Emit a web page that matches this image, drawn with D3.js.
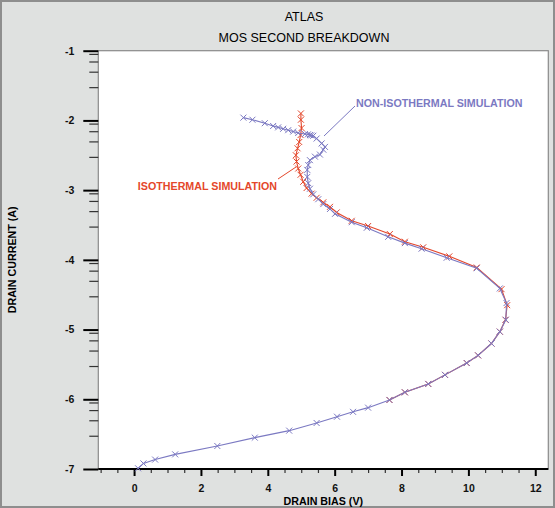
<!DOCTYPE html>
<html>
<head>
    <meta charset="utf-8">
    <script src="https://cdn.jsdelivr.net/npm/d3@7"></script>
    <style>
        body { margin: 0; background: #dfe1e0; }
        text { font-family: "Liberation Sans", Arial, sans-serif; }
    </style>
</head>
<body>
    <svg width="555" height="508"></svg>
    <script>
        // drain bias (V) and log10 drain current (A)
        const nonIsoBias = [0.12, 0.28, 0.63, 1.23, 2.49, 3.61, 4.64, 5.46, 6.07, 6.55, 7.0, 7.64,
            8.10, 8.80, 9.30, 9.95, 10.29, 10.69, 10.94, 11.12, 11.14, 10.94, 10.25, 9.35, 8.60,
            8.10, 7.60, 6.96, 6.51, 6.01, 5.86, 5.66, 5.51, 5.36, 5.26, 5.21, 5.18, 5.18, 5.21,
            5.26, 5.41, 5.56, 5.66, 5.71, 5.61, 5.46, 5.36, 5.30, 5.26, 5.20, 5.11, 4.91, 4.76,
            4.61, 4.46, 4.31, 4.16, 3.91, 3.54, 3.27];
        const nonIsoCurrent = [-6.99, -6.92, -6.865, -6.79, -6.67, -6.55, -6.45, -6.34, -6.25, -6.18,
            -6.12, -6.01, -5.90, -5.78, -5.65, -5.48, -5.37, -5.20, -5.03, -4.86, -4.62, -4.41, -4.12,
            -3.97, -3.84, -3.76, -3.67, -3.54, -3.46, -3.34, -3.27, -3.20, -3.13, -3.06, -2.98, -2.90,
            -2.81, -2.71, -2.64, -2.57, -2.52, -2.49, -2.42, -2.38, -2.33, -2.26, -2.22, -2.215,
            -2.21, -2.20, -2.195, -2.18, -2.16, -2.14, -2.12, -2.10, -2.08, -2.04, -1.99, -1.96];

        const isoBias = [7.64, 8.10, 8.80, 9.30, 9.95, 10.29, 10.69, 10.94, 11.11, 11.16, 10.99,
            10.25, 9.43, 8.65, 8.10, 7.65, 7.0, 6.51, 6.06, 5.86, 5.66, 5.46, 5.31, 5.16, 5.06,
            4.98, 4.91, 4.86, 4.84, 4.89, 4.94, 4.98, 5.01, 4.99, 4.99];
        const isoCurrent = [-6.01, -5.90, -5.78, -5.65, -5.48, -5.37, -5.20, -5.03, -4.86, -4.65,
            -4.42, -4.11, -3.95, -3.82, -3.74, -3.63, -3.515, -3.44, -3.32, -3.24, -3.175, -3.11,
            -3.05, -2.97, -2.88, -2.78, -2.69, -2.59, -2.50, -2.40, -2.31, -2.21, -2.11, -1.99, -1.90];

        const xTickValues = [0, 2, 4, 6, 8, 10, 12];
        const yTickValues = [-1, -2, -3, -4, -5, -6, -7];
        const yMinorFactors = [3, 5, 7, 9];

        const blue = "#7b79c2";
        const red = "#e4472b";

        const svg = d3.select("svg");

        svg.append("rect")
            .attr("x", 1).attr("y", 1)
            .attr("width", 553).attr("height", 506)
            .attr("fill", "#dfe1e0")
            .attr("stroke", "#8e8e8e")
            .attr("stroke-width", 2);

        const x = d3.scaleLinear().domain([-1.07, 12.39]).range([98.3, 548.3]);
        const y = d3.scaleLinear().domain([-7, -1]).range([469, 50.7]);

        // plot area
        svg.append("rect")
            .attr("x", x.range()[0]).attr("y", y.range()[1])
            .attr("width", x.range()[1] - x.range()[0])
            .attr("height", y.range()[0] - y.range()[1])
            .attr("fill", "white")
            .attr("stroke", "#8a8a8a")
            .attr("stroke-width", 1.2);

        // titles
        svg.append("text").attr("x", 304).attr("y", 21)
            .attr("text-anchor", "middle").attr("font-size", "12.5px").text("ATLAS");
        svg.append("text").attr("x", 304).attr("y", 42)
            .attr("text-anchor", "middle").attr("font-size", "12.5px").text("MOS SECOND BREAKDOWN");

        // x axis
        const xMinor = d3.range(-1, 12.01, 0.5).filter(v => v % 2 !== 0);
        svg.append("g")
            .attr("class", "axis axis--x-minor")
            .attr("transform", `translate(0,${y.range()[0]})`)
            .call(d3.axisBottom(x).tickValues(xMinor).tickSize(4).tickFormat(""));
        svg.append("g")
            .attr("class", "axis axis--x")
            .attr("transform", `translate(0,${y.range()[0]})`)
            .call(d3.axisBottom(x).tickValues(xTickValues).tickSize(7).tickPadding(9).tickFormat(d => String(d)));

        // y axis
        const yMinor = [];
        yTickValues.slice(1).forEach(e => yMinorFactors.forEach(k => yMinor.push(e + Math.log10(k))));
        svg.append("g")
            .attr("class", "axis axis--y-minor")
            .attr("transform", `translate(${x.range()[0]},0)`)
            .call(d3.axisLeft(y).tickValues(yMinor).tickSize(9).tickFormat(""));
        svg.append("g")
            .attr("class", "axis axis--y")
            .attr("transform", `translate(${x.range()[0]},0)`)
            .call(d3.axisLeft(y).tickValues(yTickValues).tickSize(15).tickPadding(9).tickFormat(d => String(d)));

        svg.selectAll(".axis .domain").remove();
        svg.selectAll(".axis text")
            .attr("font-family", "'Liberation Sans', Arial, sans-serif")
            .attr("font-size", "10.5px")
            .attr("font-weight", "bold")
            .attr("fill", "#111");
        svg.selectAll(".axis--x line, .axis--y line").attr("stroke", "#000").attr("stroke-width", 2);
        svg.selectAll(".axis--x-minor line, .axis--y-minor line").attr("stroke", "#333").attr("stroke-width", 1.2);

        // bottom axis line
        svg.append("line")
            .attr("x1", x.range()[0]).attr("x2", x.range()[1])
            .attr("y1", y.range()[0]).attr("y2", y.range()[0])
            .attr("stroke", "#000").attr("stroke-width", 2);

        // axis titles
        svg.append("text")
            .attr("x", (x.range()[0] + x.range()[1]) / 2).attr("y", 504.5)
            .attr("text-anchor", "middle").attr("font-size", "10.7px").attr("font-weight", "bold")
            .text("DRAIN BIAS (V)");
        svg.append("text")
            .attr("transform", `translate(15.5,${(y.range()[0] + y.range()[1]) / 2}) rotate(-90)`)
            .attr("text-anchor", "middle").attr("font-size", "10.7px").attr("font-weight", "bold")
            .text("DRAIN CURRENT (A)");

        const line = d3.line().x(d => x(d[0])).y(d => y(d[1]));
        const cross = "M-3,-3L3,3M-3,3L3,-3";

        function drawSeries(bias, current, color) {
            const pts = bias.map((v, i) => [v, current[i]]);
            svg.append("path")
                .datum(pts)
                .attr("d", line)
                .attr("fill", "none")
                .attr("stroke", color)
                .attr("stroke-width", 1.1);
            svg.append("g").selectAll("path")
                .data(pts)
                .enter().append("path")
                .attr("transform", d => `translate(${x(d[0])},${y(d[1])})`)
                .attr("d", cross)
                .attr("fill", "none")
                .attr("stroke", color)
                .attr("stroke-width", 1);
        }

        drawSeries(isoBias, isoCurrent, red);
        drawSeries(nonIsoBias, nonIsoCurrent, blue);

        // labels with pointer lines
        svg.append("line").attr("x1", 355).attr("y1", 106).attr("x2", 324).attr("y2", 136)
            .attr("stroke", blue).attr("stroke-width", 1);
        svg.append("text").attr("x", 356).attr("y", 106.5)
            .attr("font-size", "10.7px").attr("font-weight", "bold").attr("fill", blue)
            .text("NON-ISOTHERMAL SIMULATION");

        svg.append("line").attr("x1", 278).attr("y1", 179).attr("x2", 296).attr("y2", 167)
            .attr("stroke", red).attr("stroke-width", 1);
        svg.append("text").attr("x", 277).attr("y", 189.5)
            .attr("text-anchor", "end")
            .attr("font-size", "10.7px").attr("font-weight", "bold").attr("fill", red)
            .text("ISOTHERMAL SIMULATION");
    </script>
</body>
</html>
